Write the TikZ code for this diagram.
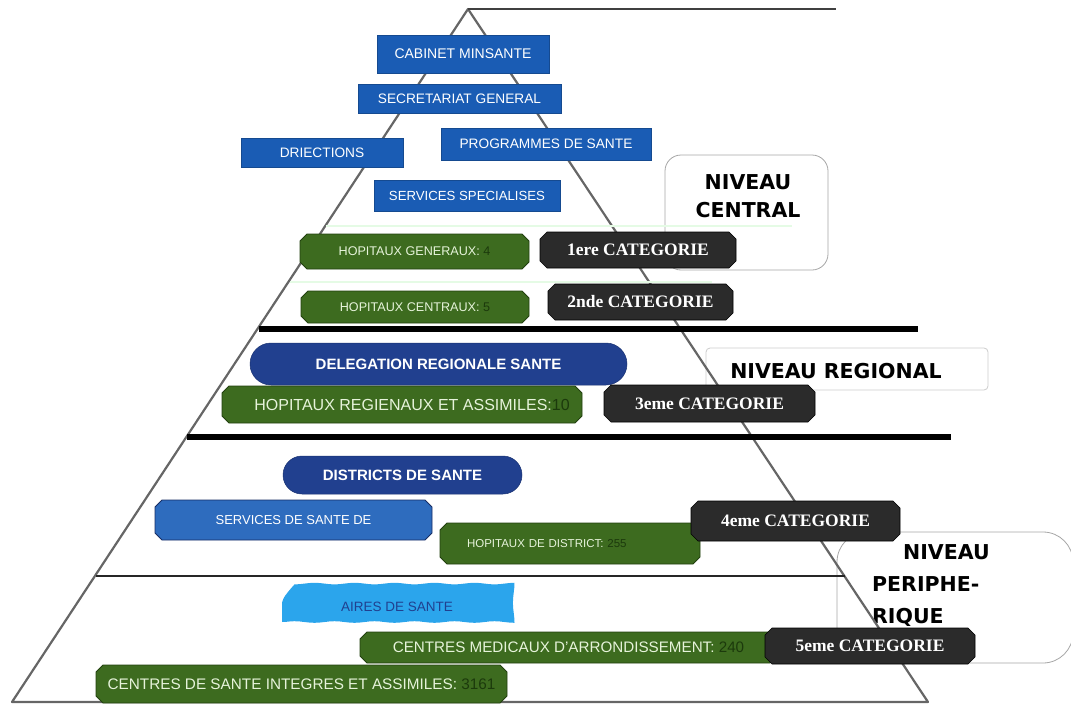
\documentclass[tikz,border=0pt]{standalone}
\usepackage{fontspec}
\setmainfont{Liberation Sans}
\newfontfamily\catfont{Liberation Serif}
\newfontfamily\nivfont{DejaVu Sans}
\usetikzlibrary{shapes.misc,decorations.pathmorphing}

\newcommand{\setfs}[1]{\fontsize{#1}{#1}\selectfont}

\definecolor{cblue}{HTML}{1A5CB4}
\definecolor{cnavy}{HTML}{21408F}
\definecolor{cmid}{HTML}{2E6CBE}
\definecolor{csky}{HTML}{2BA5EC}
\definecolor{cgreen}{HTML}{3D6B1F}
\definecolor{cgreenedge}{HTML}{22400F}
\definecolor{cgreentext}{HTML}{E6F3DA}
\definecolor{cnum}{HTML}{1C3A0C}
\definecolor{cdark}{HTML}{2B2B2B}
\definecolor{cedge}{HTML}{666666}

\tikzset{
  box/.style={inner sep=0pt, text=white, align=center},
  bluebox/.style={box, rectangle, fill=cblue, draw=cblue!80!black, line width=0.5pt, font=\setfs{13.7}},
  plaque/.style={box, chamfered rectangle, chamfered rectangle xsep=3.5pt, chamfered rectangle ysep=3.5pt},
  greenbox/.style={plaque, fill=cgreen, draw=cgreenedge, line width=0.9pt, text=cgreentext},
  catbox/.style={plaque, fill=cdark, draw=black, line width=0.6pt, font=\catfont\bfseries\setfs{17.5}},
  stadium/.style={box, rounded rectangle, fill=cnavy, draw=cnavy!80!black, line width=0.5pt, font=\bfseries\setfs{15}},
  niveaubox/.style={rectangle, rounded corners=16pt, fill=white, draw=gray!70, line width=0.8pt},
  niveautext/.style={inner sep=0pt, font=\nivfont\bfseries\fontsize{20.5}{28.5}\selectfont, text=black},
  tri/.style={draw=cedge, line width=2.2pt, line join=round},
  sepline/.style={draw=black, line width=6pt},
  thinline/.style={draw=black!85, line width=2pt},
  faintline/.style={draw=black!15!green!10!white, line width=1.6pt},
}

\begin{document}
\begin{tikzpicture}[x=1pt,y=-1pt]
\useasboundingbox (0,0) rectangle (1071,704);

% level frames on the right
\node[niveaubox, minimum width=163pt, minimum height=115pt] (nc) at (746.5,212.5) {};
\node[niveautext, align=center] (nctext) at (748,196) {NIVEAU\\CENTRAL};
\node[niveaubox, rounded corners=4pt, draw=gray!40, minimum width=282pt, minimum height=42pt] (nr) at (847,369) {};
\node[niveautext] (nrtext) at (836,371) {NIVEAU REGIONAL};
\node[niveaubox, rounded corners=30pt, minimum width=236pt, minimum height=131pt] (np) at (955,597.5) {};
\node[niveautext, align=left, anchor=west, font=\nivfont\bfseries\fontsize{20.5}{32}\selectfont] (nptext) at (872,586) {\hspace*{31pt}NIVEAU\\PERIPHE-\\RIQUE};

% pyramid outline
\coordinate (apex) at (468,9);
\coordinate (bl) at (12,702);
\coordinate (br) at (928,702);
\coordinate (topend) at (836,9);
\draw[tri] (apex) -- (bl) -- (br) -- cycle;
\draw[draw=black!75, line width=1.5pt] (apex) -- (topend);

% level separators
\coordinate (fa1) at (326,226);  \coordinate (fa2) at (792,226);
\coordinate (fb1) at (290,282);  \coordinate (fb2) at (712,282);
\coordinate (s1a) at (259,329);  \coordinate (s1b) at (918,329);
\coordinate (s2a) at (187,437);  \coordinate (s2b) at (951,437);
\coordinate (s3a) at (96,576);   \coordinate (s3b) at (845,576);
\draw[faintline] (fa1) -- (fa2);
\draw[faintline] (fb1) -- (fb2);
\draw[sepline] (s1a) -- (s1b);
\draw[sepline] (s2a) -- (s2b);
\draw[thinline] (s3a) -- (s3b);

% central level
\node[bluebox, minimum width=172pt, minimum height=38pt, font=\setfs{14}] (cab) at (463,54) {CABINET MINSANTE};
\node[bluebox, minimum width=203pt, minimum height=29pt] (sec) at (459.5,98.5) {SECRETARIAT GENERAL};
\node[bluebox, minimum width=162pt, minimum height=29pt] (dir) at (322,152.5) {DRIECTIONS};
\node[bluebox, minimum width=210pt, minimum height=32pt] (prog) at (546,144) {PROGRAMMES DE SANTE};
\node[bluebox, minimum width=186pt, minimum height=31pt, font=\setfs{13.2}] (serv) at (467,195.5) {SERVICES SPECIALISES};

\node[greenbox, minimum width=229pt, minimum height=35pt, font=\setfs{12.6}] (hg) at (414.5,251.5) {HOPITAUX GENERAUX: \textcolor{cnum}{4}};
\node[catbox, minimum width=196pt, minimum height=36pt] (c1) at (638,250) {1ere CATEGORIE};
\node[greenbox, minimum width=228pt, minimum height=32pt, font=\setfs{12.6}] (hc) at (415,307) {HOPITAUX CENTRAUX: \textcolor{cnum}{5}};
\node[catbox, minimum width=185pt, minimum height=36pt] (c2) at (640.5,302) {2nde CATEGORIE};

% regional level
\node[stadium, minimum width=377pt, minimum height=42pt] (drs) at (438.5,364) {DELEGATION REGIONALE SANTE};
\node[greenbox, minimum width=360pt, minimum height=37pt, font=\setfs{16}] (hr) at (402,404.5) {\hspace*{20pt}HOPITAUX REGIENAUX ET ASSIMILES:\textcolor{cnum}{10}};
\node[catbox, minimum width=211pt, minimum height=37pt] (c3) at (709.5,403.5) {3eme CATEGORIE};

% peripheral level: districts
\node[stadium, minimum width=239pt, minimum height=38pt] (ds) at (402.5,475) {DISTRICTS DE SANTE};
\node[plaque, fill=cmid, draw=cnavy!70!black, line width=0.8pt, minimum width=277pt, minimum height=40pt, font=\setfs{13}] (ssd) at (293.5,520) {SERVICES DE SANTE DE};
\node[greenbox, minimum width=260pt, minimum height=41pt, font=\setfs{11.5}, text width=206pt, align=left] (hd) at (570,543.5) {HOPITAUX DE DISTRICT: \textcolor{cnum}{255}};
\node[catbox, minimum width=209pt, minimum height=40pt] (c4) at (795.5,521) {4eme CATEGORIE};

% peripheral level: health areas
\node[box, rectangle, fill=csky, text=cnavy, font=\setfs{13.5}, minimum width=230pt, minimum height=31pt,
      decorate, decoration={snake, amplitude=0.8pt, segment length=40pt}] (as) at (397,606.5) {AIRES DE SANTE};
\node[greenbox, minimum width=417pt, minimum height=31pt, font=\setfs{15.2}] (cma) at (568.5,647.5) {CENTRES MEDICAUX D'ARRONDISSEMENT: \textcolor{cnum}{240}};
\node[catbox, minimum width=210pt, minimum height=36pt] (c5) at (870,646) {5eme CATEGORIE};
\node[greenbox, minimum width=411pt, minimum height=38pt, font=\setfs{15.3}] (csi) at (301.5,684) {CENTRES DE SANTE INTEGRES ET ASSIMILES: \textcolor{cnum}{3161}};

\end{tikzpicture}
\end{document}
